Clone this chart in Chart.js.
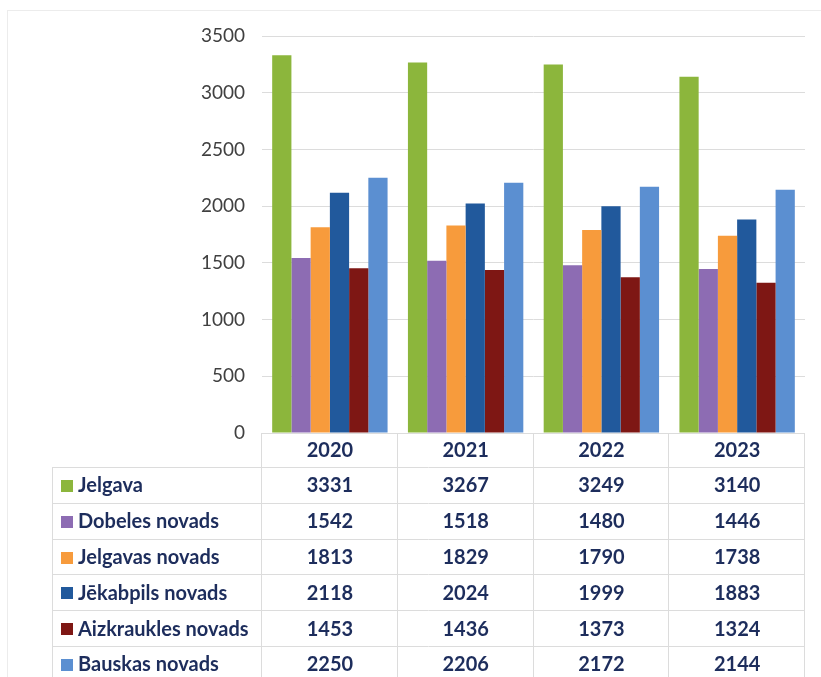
<!DOCTYPE html>
<html>
<head>
<meta charset="utf-8">
<script src="https://cdn.jsdelivr.net/npm/chart.js@4.4.1/dist/chart.umd.min.js"></script>
<style>
    html, body { margin: 0; padding: 0; background: #fff; }
    #wrap { position: relative; width: 821px; height: 677px; overflow: hidden; }
    #frame { position: absolute; left: 7px; top: 10px; width: 830px; height: 700px; border: 1px solid #ececec; box-sizing: border-box; }
    canvas { position: absolute; left: 0; top: 0; }
</style>
</head>
<body>
<div id="wrap">
    <div id="frame"></div>
    <canvas id="chart" width="821" height="677"></canvas>
</div>
<script>
const years = ['2020', '2021', '2022', '2023'];
const regions = ['Jelgava', 'Dobeles novads', 'Jelgavas novads', 'Jēkabpils novads', 'Aizkraukles novads', 'Bauskas novads'];
const jelgava = [3331, 3267, 3249, 3140];
const dobeles = [1542, 1518, 1480, 1446];
const jelgavasNovads = [1813, 1829, 1790, 1738];
const jekabpils = [2118, 2024, 1999, 1883];
const aizkraukles = [1453, 1436, 1373, 1324];
const bauskas = [2250, 2206, 2172, 2144];
const yTicks = [0, 500, 1000, 1500, 2000, 2500, 3000, 3500];

const colors = ['#8cb63c', '#8d6cb3', '#f79b3c', '#21599c', '#7e1714', '#5b8fd1'];
const seriesValues = [jelgava, dobeles, jelgavasNovads, jekabpils, aizkraukles, bauskas];

const textColor = '#1d2d5c';
const lineColor = '#dcdcdc';

// draws the data table under the plot, columns follow the x scale
const dataTable = {
    id: 'dataTable',
    afterDraw(chart) {
        const ctx = chart.ctx;
        const x = chart.scales.x;
        const y = chart.scales.y;
        const colW = (x.right - x.left) / years.length;
        const top = y.bottom;
        const headerH = 34;
        const rowH = 35.8;
        const labelLeft = 52;
        const bottom = top + headerH + rowH * regions.length;

        ctx.save();
        ctx.strokeStyle = lineColor;
        ctx.lineWidth = 1;

        // header top
        ctx.beginPath();
        ctx.moveTo(x.left, top + 0.5);
        ctx.lineTo(x.right, top + 0.5);
        ctx.stroke();

        // row lines
        for (let r = 0; r <= regions.length; r++) {
            const ly = Math.round(top + headerH + r * rowH) + 0.5;
            ctx.beginPath();
            ctx.moveTo(labelLeft, ly);
            ctx.lineTo(x.right, ly);
            ctx.stroke();
        }

        // vertical lines
        for (let c = 0; c <= years.length; c++) {
            const lx = Math.round(x.left + c * colW) - 0.5;
            ctx.beginPath();
            ctx.moveTo(lx, top);
            ctx.lineTo(lx, bottom);
            ctx.stroke();
        }
        ctx.beginPath();
        ctx.moveTo(labelLeft + 0.5, top + headerH);
        ctx.lineTo(labelLeft + 0.5, bottom);
        ctx.stroke();

        ctx.fillStyle = textColor;
        ctx.font = 'bold 20px Lato';
        ctx.textBaseline = 'middle';
        ctx.textAlign = 'center';

        years.forEach((yr, c) => {
            const cx = x.getPixelForValue(c);
            ctx.fillText(yr, cx, top + headerH / 2 + 1);
        });

        regions.forEach((name, r) => {
            const cy = top + headerH + r * rowH + rowH / 2 + 1;
            ctx.fillStyle = colors[r];
            ctx.fillRect(61, Math.round(cy - 6), 12, 12);
            ctx.fillStyle = textColor;
            ctx.textAlign = 'left';
            ctx.fillText(name, 78, cy);
            ctx.textAlign = 'center';
            seriesValues[r].forEach((v, c) => {
                ctx.fillText(String(v), x.getPixelForValue(c), cy);
            });
        });
        ctx.restore();
    }
};

const ctx = document.getElementById('chart').getContext('2d');
new Chart(ctx, {
    type: 'bar',
    data: {
        labels: years,
        datasets: regions.map((name, i) => ({
            label: name,
            data: seriesValues[i],
            backgroundColor: colors[i],
            borderWidth: 0,
            categoryPercentage: 0.85,
            barPercentage: 1
        }))
    },
    options: {
        responsive: false,
        animation: false,
        layout: {
            padding: { top: 36, right: 16, bottom: 244, left: 0 }
        },
        plugins: {
            legend: { display: false },
            tooltip: { enabled: false }
        },
        scales: {
            x: {
                display: false
            },
            y: {
                min: 0,
                max: 3500,
                afterBuildTicks: (scale) => {
                    scale.ticks = yTicks.map(v => ({ value: v }));
                },
                afterFit: (scale) => {
                    scale.width = 262;
                },
                border: { display: false },
                grid: {
                    color: lineColor,
                    drawTicks: false
                },
                ticks: {
                    padding: 17,
                    color: '#404040',
                    font: { family: 'Lato', size: 19 },
                    callback: (value) => String(value)
                }
            }
        }
    },
    plugins: [dataTable]
});
</script>
</body>
</html>
